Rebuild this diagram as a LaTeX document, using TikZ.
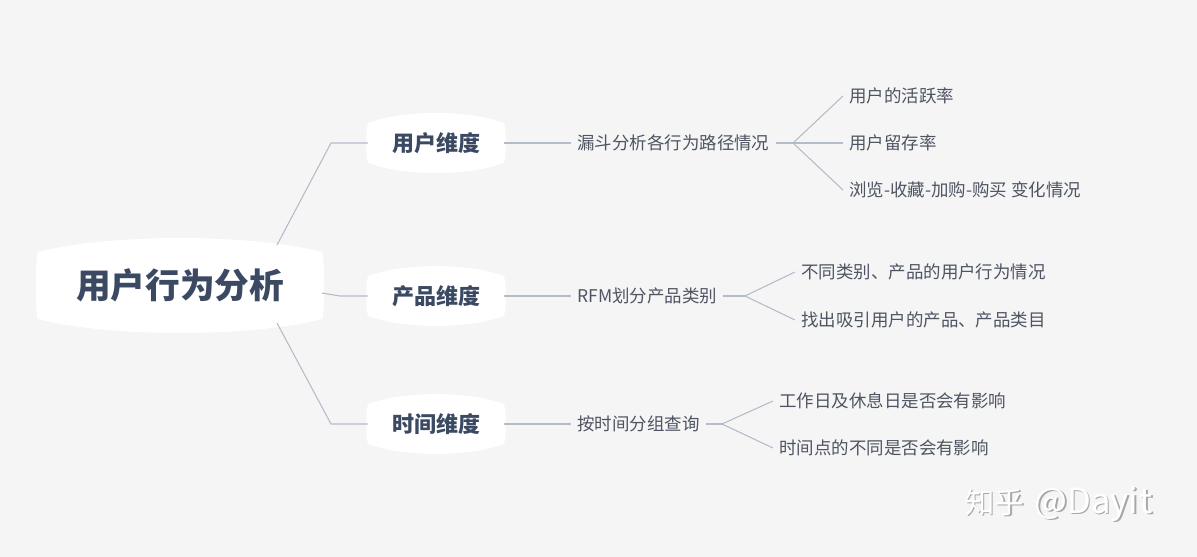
\documentclass[tikz,border=0pt]{standalone}
\usepackage{fontspec}
\setmainfont{Noto Sans CJK SC}
\definecolor{bgc}{HTML}{F5F5F5}
\definecolor{darkt}{HTML}{3B4A62}
\definecolor{grayt}{HTML}{4E5462}
\definecolor{linec}{HTML}{B4BCCA}
\definecolor{wmgray}{HTML}{A8A8A8}
\newcommand{\lensshape}[5]{% cx cy w h b
  \fill[white] ({#1-#3},{#2-#4+#5})
    .. controls ({#1-#3*0.5},{#2-#4-#5/3}) and ({#1+#3*0.5},{#2-#4-#5/3}) .. ({#1+#3},{#2-#4+#5})
    .. controls ({#1+#3+3},{#2-#4+#5+1}) and ({#1+#3+3},{#2+#4-#5-1}) .. ({#1+#3},{#2+#4-#5})
    .. controls ({#1+#3*0.5},{#2+#4+#5/3}) and ({#1-#3*0.5},{#2+#4+#5/3}) .. ({#1-#3},{#2+#4-#5})
    .. controls ({#1-#3-3},{#2+#4-#5-1}) and ({#1-#3-3},{#2-#4+#5+1}) .. cycle;}
\newcommand{\wmtext}{知乎\hspace{8pt}{\fontsize{26pt}{29pt}\selectfont @Dayi\hspace{1pt}t}}
\tikzset{
  rootnode/.style={font=\bfseries\fontsize{26pt}{30pt}\selectfont, text=darkt, inner sep=0pt, minimum width=213pt, minimum height=70pt},
  levelone/.style={font=\bfseries\fontsize{16.5pt}{20pt}\selectfont, text=darkt, inner sep=0pt, minimum width=101.25pt, minimum height=45pt},
  leaf/.style={font=\fontsize{13.1pt}{16pt}\selectfont, text=grayt, anchor=west, inner xsep=4.5pt, inner ysep=0pt},
  conn/.style={draw=linec, line width=0.8pt},
  wmark/.style={font=\fontsize{22pt}{26pt}\selectfont, anchor=west, inner sep=0pt},
}
\begin{document}
\begin{tikzpicture}[x=0.75pt,y=-0.75pt]
\fill[bgc] (0,0) rectangle (1197,557);
\useasboundingbox (0,0) rectangle (1197,557);
% shapes
\lensshape{180}{285.5}{142}{47.5}{14}
\lensshape{436}{143}{67.5}{30}{10}
\lensshape{436}{296}{67.5}{30}{10}
\lensshape{436}{424}{67.5}{30}{10}
% nodes
\node[rootnode] (root) at (180,285) {用户行为分析};
\node[levelone] (u) at (436,143) {用户维度};
\node[levelone] (p) at (436,296) {产品维度};
\node[levelone] (t) at (436,424) {时间维度};
\coordinate (r1) at (277,245);
\coordinate (r2) at (322,293);
\coordinate (r3) at (277,323);
% level two
\node[leaf] (u2) at (571,143) {漏斗分析各行为路径情况};
\node[leaf] (p2) at (571,296) {RFM划分产品类别};
\node[leaf] (t2) at (571,424) {按时间分组查询};
% leaves
\node[leaf] (u3a) at (843,96) {用户的活跃率};
\node[leaf] (u3b) at (843,143) {用户留存率};
\node[leaf] (u3c) at (843,190) {浏览-收藏-加购-购买 变化情况};
\node[leaf] (p3a) at (795,272) {不同类别、产品的用户行为情况};
\node[leaf] (p3b) at (795,320) {找出吸引用户的产品、产品类目};
\node[leaf] (t3a) at (773,401) {工作日及休息日是否会有影响};
\node[leaf] (t3b) at (773,448) {时间点的不同是否会有影响};
\coordinate (ub) at (793,143);
\coordinate (pb) at (745,296);
\coordinate (tb) at (722,424);
% connectors
\draw[conn] (r1) -- (331,143) -- (u.west);
\draw[conn] (r2) -- (340,296) -- (p.west);
\draw[conn] (r3) -- (331,424) -- (t.west);
\draw[conn] (u.east) -- (u2.west);
\draw[conn] (p.east) -- (p2.west);
\draw[conn] (t.east) -- (t2.west);
\draw[conn] (u2.east) -- (ub);
\draw[conn] (ub) -- (u3a.west);
\draw[conn] (ub) -- (u3b.west);
\draw[conn] (ub) -- (u3c.west);
\draw[conn] (p2.east) -- (pb);
\draw[conn] (pb) -- (p3a.west);
\draw[conn] (pb) -- (p3b.west);
\draw[conn] (t2.east) -- (tb);
\draw[conn] (tb) -- (t3a.west);
\draw[conn] (tb) -- (t3b.west);
% watermark
\node[wmark, text=wmgray] (wms) at (966.5,505.5) {\wmtext};
\node[wmark, text=white] (wm) at (965,504) {\wmtext};
\end{tikzpicture}
\end{document}
